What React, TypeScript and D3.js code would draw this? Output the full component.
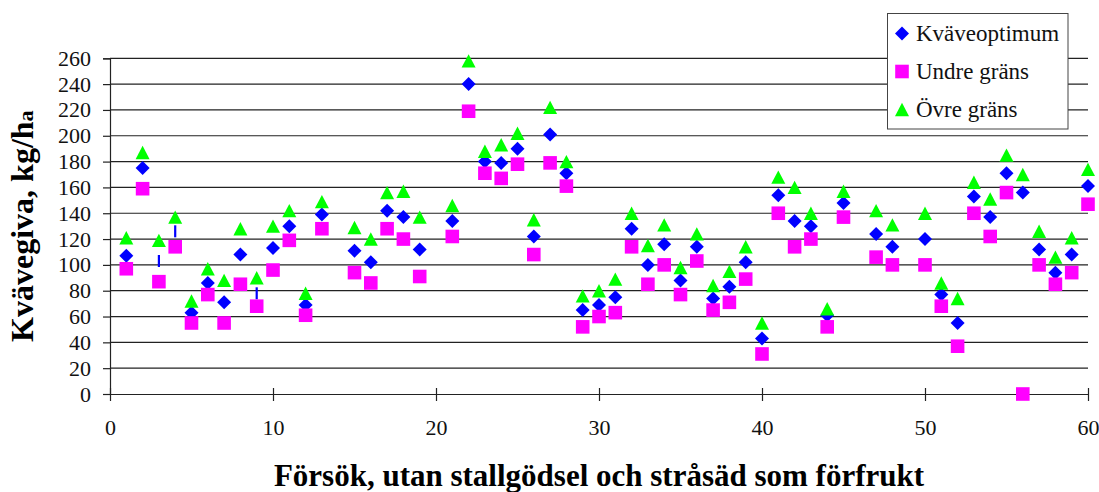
import React, { useEffect, useRef } from "react";
import * as d3 from "d3";

// Trial numbers (14, 20, 46, 49 have no values)
const trials = [
  1, 2, 3, 4, 5, 6, 7, 8, 9, 10, 11, 12, 13, 15, 16, 17, 18, 19, 21, 22, 23, 24, 25, 26, 27, 28, 29, 30,
  31, 32, 33, 34, 35, 36, 37, 38, 39, 40, 41, 42, 43, 44, 45, 47, 48, 50, 51, 52, 53, 54, 55, 56, 57, 58,
  59, 60,
];

// Kväveoptimum (blue diamonds)
const optimum = [
  107, 175, 103, 126, 63, 86, 71, 108, 78, 113, 130, 69, 139, 111, 102, 142, 137, 112, 134, 240, 180, 179,
  190, 122, 201, 171, 65, 69, 75, 128, 100, 116, 88, 114, 74, 83, 102, 43, 154, 134, 130, 61, 148, 124, 114,
  120, 77, 55, 153, 137, 171, 156, 112, 94, 108, 161,
];

// Undre gräns (magenta squares)
const lower = [
  97, 159, 87, 114, 55, 77, 55, 85, 68, 96, 119, 61, 128, 94, 86, 128, 120, 91, 122, 219, 171, 167, 178, 108,
  179, 161, 52, 60, 63, 114, 85, 100, 77, 103, 65, 71, 89, 31, 140, 114, 120, 52, 137, 106, 100, 100, 68, 37,
  140, 122, 156, 0, 100, 85, 94, 147,
];

// Övre gräns (green triangles)
const upper = [
  121, 187, 119, 137, 72, 97, 88, 128, 90, 130, 142, 78, 149, 129, 120, 156, 157, 137, 146, 258, 188, 193,
  202, 135, 222, 180, 76, 80, 89, 140, 115, 131, 98, 124, 84, 95, 114, 55, 168, 160, 140, 66, 157, 142, 131,
  140, 86, 74, 164, 151, 185, 170, 126, 106, 121, 174,
];

// trials where the optimum marker shows up as a thin vertical dash
const dashTrials = [3, 4, 9];

const yTicks = [0, 20, 40, 60, 80, 100, 120, 140, 160, 180, 200, 220, 240, 260];
const xTicks = [0, 10, 20, 30, 40, 50, 60];

const legendItems = ["Kväveoptimum", "Undre gräns", "Övre gräns"];

const BLUE = "#0000ff";
const MAGENTA = "#ff00ff";
const GREEN = "#00ff00";
const FONT = "'Liberation Serif', 'Times New Roman', serif";

function drawChart(svgEl: SVGSVGElement) {
  const width = 1099;
  const height = 492;
  const margin = { top: 58.3, right: 11, bottom: 98, left: 110 };

  const svg = d3.select(svgEl);
  svg.selectAll("*").remove();

  const x = d3.scaleLinear().domain([0, 60]).range([margin.left, width - margin.right]);
  const y = d3.scaleLinear().domain([0, 260]).range([height - margin.bottom, margin.top]);

  // horizontal gridlines
  svg
    .append("g")
    .selectAll("line")
    .data(yTicks.filter((t) => t > 0))
    .enter()
    .append("line")
    .attr("x1", x(0))
    .attr("x2", x(60))
    .attr("y1", (d) => y(d))
    .attr("y2", (d) => y(d))
    .attr("stroke", "#222")
    .attr("stroke-width", 1.2);

  // Y axis
  const yAxis = svg
    .append("g")
    .attr("transform", `translate(${x(0)},0)`)
    .attr("font-family", FONT)
    .call(d3.axisLeft(y).tickValues(yTicks).tickSize(7).tickPadding(12));
  yAxis.attr("font-family", FONT);
  yAxis.select(".domain").attr("stroke", "#222").attr("stroke-width", 1.2);
  yAxis.selectAll(".tick line").attr("stroke", "#222").attr("stroke-width", 1.2);
  yAxis
    .selectAll("text")
    .style("font-family", FONT)
    .style("font-size", "22px")
    .style("fill", "#111");

  // X axis (ticks cross the axis line)
  const xAxis = svg
    .append("g")
    .attr("transform", `translate(0,${y(0)})`)
    .call(d3.axisBottom(x).tickValues(xTicks).tickSizeInner(7).tickSizeOuter(0).tickPadding(18));
  xAxis.attr("font-family", FONT);
  xAxis.select(".domain").attr("stroke", "#222").attr("stroke-width", 1.2);
  xAxis
    .selectAll(".tick line")
    .attr("y1", -6)
    .attr("y2", 7)
    .attr("stroke", "#222")
    .attr("stroke-width", 1.2);
  xAxis
    .selectAll("text")
    .style("font-family", FONT)
    .style("font-size", "22px")
    .style("fill", "#111");

  const rows = trials.map((t, i) => ({ t, opt: optimum[i], lo: lower[i], hi: upper[i] }));

  const diamond = "M0,-7L7,0L0,7L-7,0Z";
  const square = "M-6.8,-6.8H6.8V6.8H-6.8Z";
  const triangle = "M0,-6.7L7,6.7H-7Z";

  // Kväveoptimum
  const optG = svg.append("g");
  rows.forEach((d) => {
    if (dashTrials.includes(d.t)) {
      optG
        .append("line")
        .attr("x1", x(d.t))
        .attr("x2", x(d.t))
        .attr("y1", y(d.opt) - 6)
        .attr("y2", y(d.opt) + 6)
        .attr("stroke", BLUE)
        .attr("stroke-width", 2.2);
    } else {
      optG
        .append("path")
        .attr("d", diamond)
        .attr("transform", `translate(${x(d.t)},${y(d.opt)})`)
        .attr("fill", BLUE);
    }
  });

  // Undre gräns
  svg
    .append("g")
    .selectAll("path")
    .data(rows)
    .enter()
    .append("path")
    .attr("d", square)
    .attr("transform", (d) => `translate(${x(d.t)},${y(d.lo)})`)
    .attr("fill", MAGENTA);

  // Övre gräns
  svg
    .append("g")
    .selectAll("path")
    .data(rows)
    .enter()
    .append("path")
    .attr("d", triangle)
    .attr("transform", (d) => `translate(${x(d.t)},${y(d.hi)})`)
    .attr("fill", GREEN);

  // Legend
  const legend = svg.append("g").attr("transform", "translate(887.5,13.5)");
  legend
    .append("rect")
    .attr("width", 180.5)
    .attr("height", 115.5)
    .attr("fill", "#fff")
    .attr("stroke", "#444")
    .attr("stroke-width", 1);
  const markers = [diamond, square, triangle];
  const colors = [BLUE, MAGENTA, GREEN];
  legendItems.forEach((lbl, i) => {
    const cy = 20 + i * 38;
    legend
      .append("path")
      .attr("d", markers[i])
      .attr("transform", `translate(14.5,${cy})`)
      .attr("fill", colors[i]);
    legend
      .append("text")
      .attr("x", 28.5)
      .attr("y", cy + 7.5)
      .style("font-family", FONT)
      .style("font-size", "23px")
      .style("fill", "#111")
      .text(lbl);
  });

  // X-axis title
  svg
    .append("text")
    .attr("x", (x(0) + x(60)) / 2)
    .attr("y", 486)
    .attr("text-anchor", "middle")
    .style("font-family", FONT)
    .style("font-size", "31px")
    .style("font-weight", "bold")
    .style("fill", "#000")
    .text("Försök, utan stallgödsel och stråsäd som förfrukt");

  // Y-axis title
  const yTitle = svg
    .append("text")
    .attr("transform", `translate(33,${(y(0) + y(260)) / 2}) rotate(-90)`)
    .attr("text-anchor", "middle")
    .style("font-family", FONT)
    .style("font-size", "32px")
    .style("font-weight", "bold")
    .style("fill", "#000");
  yTitle.append("tspan").text("Kvävegiva, kg/h");
  yTitle.append("tspan").style("font-size", "22px").text("a");
}

const App = () => {
  const svgRef = useRef<SVGSVGElement>(null);

  useEffect(() => {
    if (svgRef.current) drawChart(svgRef.current);
  }, []);

  return (
    <svg
      ref={svgRef}
      width={1099}
      height={492}
      style={{ position: "absolute", left: 0, top: 0, background: "#fff" }}
    />
  );
};

export default App;
